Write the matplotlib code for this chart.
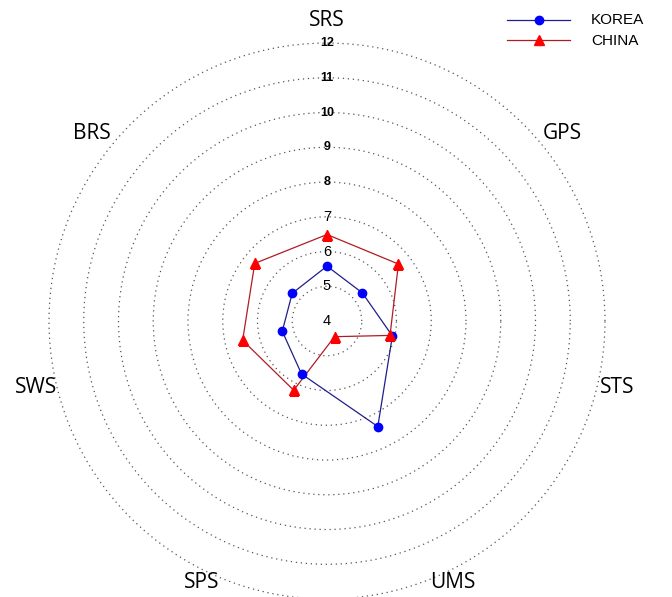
import numpy as np
import matplotlib
matplotlib.use("Agg")
import matplotlib.pyplot as plt

categories = ["SRS", "GPS", "STS", "UMS", "SPS", "SWS", "BRS"]
korea = [5.58, 5.30, 5.93, 7.37, 5.69, 5.32, 5.28]
china = [6.49, 6.63, 5.86, 4.50, 6.21, 6.49, 6.66]
rticks = [4, 5, 6, 7, 8, 9, 10, 11, 12]

n = len(categories)
# SRS on top, then clockwise
theta = np.pi / 2 - 2 * np.pi * np.arange(n) / n

fig = plt.figure(figsize=(6.72, 5.97), dpi=100)
ax = fig.add_axes([0.0729, -0.0034, 0.8274, 0.9313], projection="polar")

ax.set_ylim(4, 12)
ax.set_yticks(rticks)
ax.set_yticklabels([])
ax.set_xticks([])
ax.yaxis.grid(True, linestyle=(0, (1, 3)), color="#555555", linewidth=0.9)
ax.xaxis.grid(False)
ax.spines["polar"].set_visible(False)
for gl in ax.yaxis.get_gridlines():
    gl.set_clip_on(False)

for r in rticks:
    ax.text(np.pi / 2, r, str(r), ha="center", va="center",
            fontsize=10.5 if r <= 7 else 9, fontweight="bold" if r > 7 else "normal",
            family="Liberation Sans", color="black")

for t, lab in zip(theta, categories):
    rl = 12.66 - 0.36 * max(0.0, -np.sin(t))
    ax.text(t, rl, lab, ha="center", va="center", fontsize=15,
            family="Open Sans", clip_on=False)

tt = np.append(theta, theta[0])
ax.plot(tt, korea + korea[:1], color="#1f1f8a", linewidth=0.9, zorder=3)
ax.plot(theta, korea, linestyle="none", marker="o", markersize=6,
        color="#0000ff", zorder=4)
ax.plot(tt, china + china[:1], color="#b01c24", linewidth=0.9, zorder=3)
ax.plot(theta, china, linestyle="none", marker="^", markersize=7,
        color="#ff0000", zorder=4)

# legend
lax = fig.add_axes([0, 0, 1, 1], facecolor="none")
lax.set_xlim(0, 672)
lax.set_ylim(597, 0)
lax.axis("off")
lax.plot([507, 570], [20, 20], color="#1f1f8a", linewidth=0.9)
lax.plot([539], [20], marker="o", markersize=6, color="#0000ff")
lax.plot([507, 570], [40, 40], color="#b01c24", linewidth=0.9)
lax.plot([539], [40], marker="^", markersize=7, color="#ff0000")
lax.text(591, 20, "KOREA", va="center", ha="left", fontsize=11, family="Liberation Sans")
lax.text(591, 41, "CHINA", va="center", ha="left", fontsize=11, family="Liberation Sans")

fig.savefig("out.png", dpi=100)
